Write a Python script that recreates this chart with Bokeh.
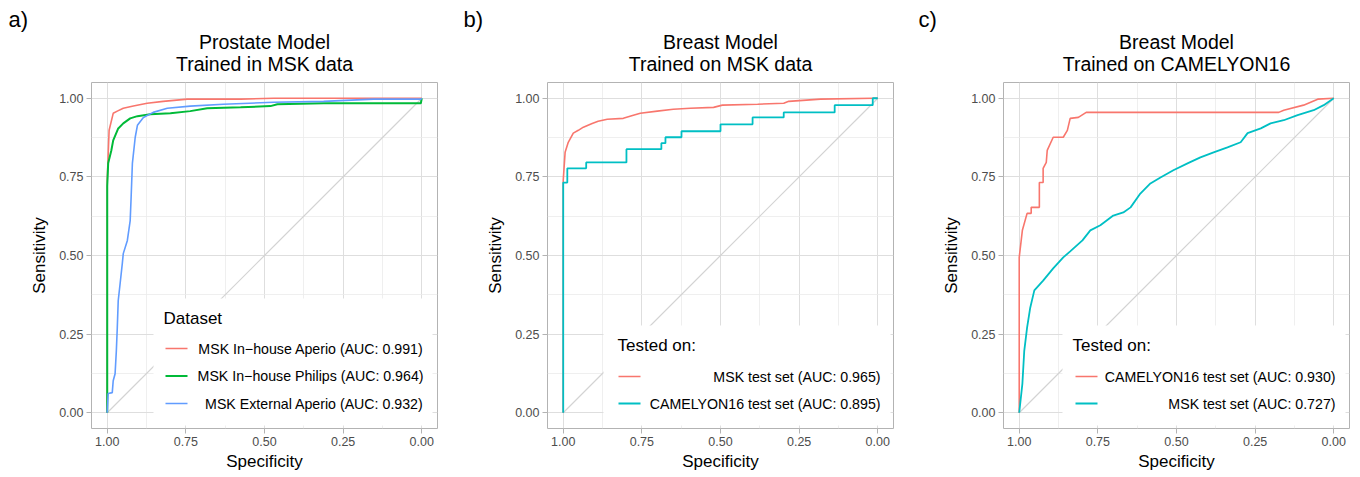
from bokeh.plotting import figure
from bokeh.layouts import row, column
from bokeh.models import Range1d, FixedTicker, NumeralTickFormatter, Label
from bokeh.core.properties import value
from bokeh.embed import file_html
from bokeh.resources import INLINE

FONT = "Liberation Sans"

# ---------------- data (specificity, sensitivity) ----------------
A_APERIO_SPEC = [1.000, 1.000, 0.994, 0.981, 0.968, 0.949, 0.917, 0.873, 0.822, 0.745, 0.576, 0.471, 0.000]
A_APERIO_SENS = [0.000, 0.739, 0.898, 0.952, 0.959, 0.968, 0.975, 0.984, 0.990, 0.997, 0.997, 1.000, 1.000]

A_PHILIPS_SPEC = [1.000, 1.000, 0.997, 0.987, 0.981, 0.965, 0.949, 0.927, 0.904, 0.863, 0.799, 0.736,
                  0.682, 0.576, 0.481, 0.459, 0.312, 0.003, 0.000]
A_PHILIPS_SENS = [0.000, 0.720, 0.793, 0.834, 0.866, 0.904, 0.920, 0.936, 0.943, 0.949, 0.952, 0.959,
                  0.968, 0.971, 0.975, 0.981, 0.984, 0.984, 1.000]

A_EXTERNAL_SPEC = [1.000, 0.997, 0.984, 0.981, 0.975, 0.971, 0.968, 0.965, 0.959, 0.952, 0.949, 0.936,
                   0.927, 0.924, 0.920, 0.911, 0.904, 0.885, 0.854, 0.809, 0.736, 0.631, 0.471, 0.312,
                   0.153, 0.003, 0.000]
A_EXTERNAL_SENS = [0.000, 0.061, 0.064, 0.102, 0.124, 0.197, 0.271, 0.357, 0.411, 0.475, 0.506, 0.548,
                   0.611, 0.685, 0.793, 0.876, 0.914, 0.939, 0.955, 0.968, 0.975, 0.981, 0.987, 0.990,
                   0.997, 0.997, 1.000]

B_MSK_SPEC = [1.000, 1.000, 0.994, 0.984, 0.968, 0.952, 0.936, 0.908, 0.889, 0.860, 0.809, 0.777,
              0.755, 0.701, 0.650, 0.596, 0.522, 0.494, 0.382, 0.299, 0.283, 0.182, 0.013, 0.000]
B_MSK_SENS = [0.000, 0.739, 0.828, 0.860, 0.889, 0.898, 0.908, 0.920, 0.927, 0.933, 0.936, 0.946,
              0.952, 0.959, 0.965, 0.968, 0.971, 0.978, 0.981, 0.984, 0.990, 0.997, 1.000, 1.000]

# step curve: (spec, sens) corner points, drawn with step mode "after"
B_CAM_SPEC = [1.000, 1.000, 0.987, 0.927, 0.799, 0.688, 0.675, 0.624, 0.500, 0.398, 0.299, 0.137, 0.016, 0.000]
B_CAM_SENS = [0.000, 0.732, 0.777, 0.796, 0.838, 0.857, 0.876, 0.895, 0.917, 0.939, 0.955, 0.978, 1.000, 1.000]

C_CAM_SPEC = [1.000, 1.000, 0.990, 0.975, 0.962, 0.962, 0.936, 0.936, 0.924, 0.924, 0.914, 0.911, 0.892,
              0.860, 0.847, 0.838, 0.812, 0.787, 0.175, 0.159, 0.096, 0.051, 0.000]
C_CAM_SENS = [0.000, 0.494, 0.580, 0.634, 0.634, 0.653, 0.653, 0.732, 0.732, 0.777, 0.796, 0.834, 0.876,
              0.876, 0.898, 0.936, 0.939, 0.955, 0.955, 0.962, 0.978, 0.997, 1.000]

C_MSK_SPEC = [1.000, 0.990, 0.984, 0.975, 0.965, 0.952, 0.924, 0.892, 0.860, 0.838, 0.799, 0.774, 0.742,
              0.701, 0.669, 0.646, 0.615, 0.583, 0.551, 0.510, 0.465, 0.424, 0.382, 0.338, 0.296, 0.274,
              0.232, 0.201, 0.159, 0.115, 0.064, 0.032, 0.000]
C_MSK_SENS = [0.000, 0.092, 0.197, 0.271, 0.334, 0.389, 0.420, 0.459, 0.494, 0.513, 0.548, 0.580, 0.596,
              0.627, 0.637, 0.653, 0.697, 0.729, 0.748, 0.771, 0.793, 0.812, 0.828, 0.844, 0.860, 0.889,
              0.904, 0.920, 0.930, 0.946, 0.962, 0.978, 1.000]

DIAG_SPEC = [1.0, 0.0]
DIAG_SENS = [0.0, 1.0]

TICKS = [0.0, 0.25, 0.5, 0.75, 1.0]
MINOR_TICKS = [0.125, 0.375, 0.625, 0.875]

PANEL_LETTERS = ["a)", "b)", "c)"]
TITLES_1 = ["Prostate Model", "Breast Model", "Breast Model"]
TITLES_2 = ["Trained in MSK data", "Trained on MSK data", "Trained on CAMELYON16"]

RED, GREEN, BLUE, CYAN = "#F8766D", "#00BA38", "#619CFF", "#00BFC4"

# ---------------- layout constants (pixels) ----------------
W = 1360
FW = 346
TOP = 82
H = 477
PANEL_X0 = [0, 453, 909]          # left edge of each panel
LEFT_B = [91, 94, 94]             # left border of each panel
RIGHT_B = [16, 16, 11]
LETTER_DX = [8, 10, 9]


def make_header():
    h = figure(width=W, height=TOP, x_range=Range1d(0, W), y_range=Range1d(TOP, 0),
               x_axis_type=None, y_axis_type=None,
               min_border=0, output_backend="svg", toolbar_location=None, title=None)
    h.grid.visible = False
    h.outline_line_color = None
    h.background_fill_color = "white"
    h.border_fill_color = "white"
    cxs = [x0 + lb + FW / 2 for x0, lb in zip(PANEL_X0, LEFT_B)]
    h.text(x=cxs, y=[41.5] * 3, text=TITLES_1, text_font=value(FONT),
           text_font_size="19.5px", text_align="center", text_baseline="middle", text_color="black")
    h.text(x=cxs, y=[63.5] * 3, text=TITLES_2, text_font=value(FONT),
           text_font_size="19.5px", text_align="center", text_baseline="middle", text_color="black")
    h.text(x=[x0 + d for x0, d in zip(PANEL_X0, LETTER_DX)], y=[19] * 3, text=PANEL_LETTERS,
           text_font=value(FONT), text_font_size="22px",
           text_align="left", text_baseline="middle", text_color="black")
    return h


def make_panel(lb, rb, curves, leg_title, leg):
    p = figure(frame_width=FW, frame_height=FW, min_border_left=lb, min_border_right=rb,
               min_border_top=0, min_border_bottom=H - TOP - FW,
               x_range=Range1d(1.05, -0.05), y_range=Range1d(-0.05, 1.05),
               output_backend="svg", toolbar_location=None, title=None)
    p.background_fill_color = "white"
    p.border_fill_color = "white"
    p.outline_line_color = "#B3B3B3"
    p.outline_line_width = 1

    def dx(px):
        return 1.05 - (px - lb) / FW * 1.1

    def dy(py):  # py measured from the top of the page
        return -0.05 + (TOP + FW - py) / FW * 1.1

    for ax in (p.xaxis[0], p.yaxis[0]):
        ax.ticker = FixedTicker(ticks=TICKS, minor_ticks=MINOR_TICKS)
        ax.formatter = NumeralTickFormatter(format="0.00")
        ax.axis_line_color = None
        ax.major_tick_line_color = "#B3B3B3"
        ax.major_tick_out = 5
        ax.major_tick_in = 0
        ax.minor_tick_line_color = None
        ax.major_label_text_font = FONT
        ax.major_label_text_font_size = "12.5px"
        ax.major_label_text_color = "#4D4D4D"
        ax.axis_label_text_font = FONT
        ax.axis_label_text_font_size = "17px"
        ax.axis_label_text_font_style = "normal"
        ax.axis_label_text_color = "black"
    p.xaxis.axis_label = "Specificity"
    p.yaxis.axis_label = "Sensitivity"
    p.xaxis.major_label_standoff = 3
    p.yaxis.major_label_standoff = 3
    p.xaxis.axis_label_standoff = 3
    p.yaxis.axis_label_standoff = 7

    for g in (p.xgrid[0], p.ygrid[0]):
        g.grid_line_color = "#DEDEDE"
        g.grid_line_width = 1
        g.minor_grid_line_color = "#EBEBEB"
        g.minor_grid_line_width = 0.8

    p.line(DIAG_SPEC, DIAG_SENS, line_color="#D3D3D3", line_width=1.2)

    for c in curves:
        if c.get("step"):
            p.step(c["x"], c["y"], mode="after", line_color=c["color"], line_width=c["w"])
        else:
            p.line(c["x"], c["y"], line_color=c["color"], line_width=c["w"])

    # legend (drawn by hand so that labels can be right-aligned as in ggplot)
    bl, bt, br, bbm = leg["box"]
    p.quad(left=[dx(bl)], right=[dx(br)], top=[dy(bt)], bottom=[dy(bbm)],
           fill_color="white", line_color=None)
    p.add_layout(Label(x=dx(leg["title"][0]), y=dy(leg["title"][1]), text=leg_title,
                       text_font=FONT, text_font_size="17px", text_baseline="middle",
                       text_align="left", text_color="black"))
    k0, k1 = leg["key"]
    for c, yy in zip(curves, leg["ys"]):
        p.segment(x0=[dx(k0)], x1=[dx(k1)], y0=[dy(yy)], y1=[dy(yy)],
                  line_color=c["color"], line_width=c["w"])
        p.add_layout(Label(x=dx(leg["right"]), y=dy(yy), text=c["label"], text_font=FONT,
                           text_font_size="14.2px", text_baseline="middle", text_align="right",
                           text_color="black"))
    return p


pa = make_panel(
    LEFT_B[0], RIGHT_B[0],
    [dict(x=A_APERIO_SPEC, y=A_APERIO_SENS, color=RED, w=1.6, label="MSK In\u2212house Aperio (AUC: 0.991)"),
     dict(x=A_PHILIPS_SPEC, y=A_PHILIPS_SENS, color=GREEN, w=2.0, label="MSK In\u2212house Philips (AUC: 0.964)"),
     dict(x=A_EXTERNAL_SPEC, y=A_EXTERNAL_SENS, color=BLUE, w=1.6, label="MSK External Aperio (AUC: 0.932)")],
    "Dataset",
    dict(box=(153, 298, 432, 425), title=(163, 318), ys=[348, 375.5, 403], key=(165, 187), right=423))

pb = make_panel(
    LEFT_B[1], RIGHT_B[1],
    [dict(x=B_MSK_SPEC, y=B_MSK_SENS, color=RED, w=1.6, label="MSK test set (AUC: 0.965)"),
     dict(x=B_CAM_SPEC, y=B_CAM_SENS, color=CYAN, w=1.8, step=True, label="CAMELYON16 test set (AUC: 0.895)")],
    "Tested on:",
    dict(box=(603 - 453, 325, 890 - 453, 425), title=(617 - 453, 345), ys=[376, 403],
         key=(618 - 453, 640 - 453), right=880 - 453))

pc = make_panel(
    LEFT_B[2], RIGHT_B[2],
    [dict(x=C_CAM_SPEC, y=C_CAM_SENS, color=RED, w=1.6, label="CAMELYON16 test set (AUC: 0.930)"),
     dict(x=C_MSK_SPEC, y=C_MSK_SENS, color=CYAN, w=1.8, label="MSK test set (AUC: 0.727)")],
    "Tested on:",
    dict(box=(1062 - 909, 325, 1345 - 909, 425), title=(1072 - 909, 345), ys=[376, 403],
         key=(1075 - 909, 1097 - 909), right=1335 - 909))

layout = column(make_header(), row(pa, pb, pc, spacing=0), spacing=0)
open("out.html", "w").write(file_html(layout, INLINE))
